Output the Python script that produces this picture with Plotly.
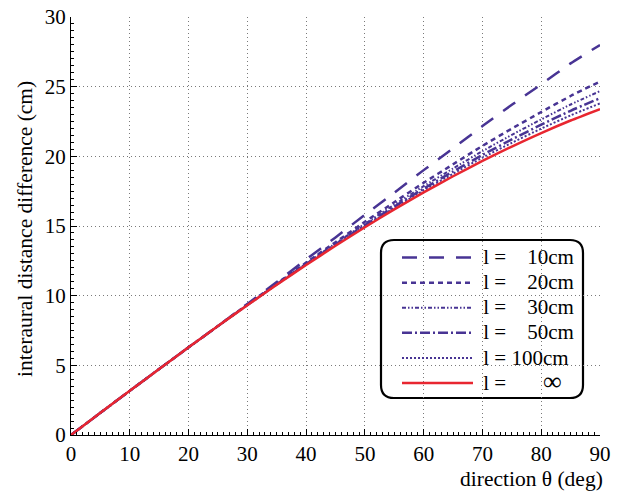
import plotly.graph_objects as go

theta = [0, 5, 10, 15, 20, 25, 30, 35, 40, 45, 50, 55, 60, 65, 70, 75, 80, 85, 90]

d_10 = [0, 1.59, 3.17, 4.74, 6.29, 7.82, 9.41, 10.98, 12.60, 14.18, 15.81, 17.39,
        19.01, 20.57, 22.17, 23.70, 25.17, 26.67, 27.99]
d_20 = [0, 1.59, 3.17, 4.74, 6.29, 7.82, 9.36, 10.87, 12.37, 13.84, 15.30, 16.71,
        18.10, 19.43, 20.75, 21.99, 23.18, 24.33, 25.37]
d_30 = [0, 1.59, 3.17, 4.74, 6.29, 7.82, 9.34, 10.84, 12.31, 13.75, 15.16, 16.53,
        17.86, 19.13, 20.37, 21.54, 22.65, 23.72, 24.68]
d_50 = [0, 1.59, 3.17, 4.74, 6.29, 7.82, 9.33, 10.81, 12.27, 13.68, 15.06, 16.39,
        17.68, 18.91, 20.10, 21.21, 22.27, 23.27, 24.17]
d_100 = [0, 1.59, 3.17, 4.74, 6.29, 7.82, 9.32, 10.80, 12.24, 13.63, 14.99, 16.30,
         17.55, 18.75, 19.90, 20.97, 21.99, 22.94, 23.80]
d_inf = [0, 1.59, 3.17, 4.74, 6.29, 7.82, 9.31, 10.78, 12.20, 13.58, 14.91, 16.19,
         17.41, 18.57, 19.67, 20.70, 21.67, 22.57, 23.39]

NB = "\u00a0"
labels = [
    NB + "l =" + NB * 3 + " 10cm",
    NB + "l =" + NB * 3 + " 20cm",
    NB + "l =" + NB * 3 + " 30cm",
    NB + "l =" + NB * 3 + " 50cm",
    NB + "l = 100cm",
    NB + "l =" + NB * 7 + "<span style='font-size:26px'>\u221e</span>",
]
names = ["<span style='font-size:21px'>" + s + "</span>" for s in labels]
series = [d_10, d_20, d_30, d_50, d_100, d_inf]

PURPLE = "rgb(72,52,148)"
RED = "rgb(232,38,48)"
styles = [
    dict(color=PURPLE, width=2.5, dash="15px,12px"),
    dict(color=PURPLE, width=2.5, dash="5px,4px"),
    dict(color=PURPLE, width=2.0, dash="4px,2px,1.5px,2px,1.5px,2px"),
    dict(color=PURPLE, width=2.5, dash="10px,3px,2px,3px"),
    dict(color=PURPLE, width=2.0, dash="2px,2px"),
    dict(color=RED, width=2.5),
]

FONT = "Liberation Serif"
fig = go.Figure()
for name, ys, st in zip(names, series, styles):
    fig.add_trace(go.Scatter(x=theta, y=ys, mode="lines", name=name,
                             line=dict(shape="spline", smoothing=0.6, **st)))

axis_common = dict(
    showline=True, linecolor="black", linewidth=1, mirror=False,
    ticks="inside", ticklen=6, tickcolor="black", tickwidth=1,
    showgrid=True, gridcolor="#7a7a7a", griddash="1px,3px", gridwidth=1,
    zeroline=False, automargin=False, ticklabeloverflow="allow",
    tickfont=dict(family=FONT, size=21, color="black"),
)

fig.update_xaxes(range=[0, 90], dtick=10, tick0=0,
                 minor=dict(dtick=1, ticks="inside", ticklen=3, tickcolor="black", showgrid=False),
                 **axis_common)
fig.update_yaxes(range=[0, 30], dtick=5, tick0=0,
                 minor=dict(dtick=0.5, ticks="inside", ticklen=3, tickcolor="black", showgrid=False),
                 **axis_common)

# page (browser) coordinates of the plot area; the page body adds an 8px offset
OFF = 8
PL, PR, PT, PB = 71, 600, 17, 435
PW, PH = PR - PL, PB - PT
L, T = PL - OFF, PT - OFF
R = 637 - (PR - OFF)
B = 494 - (PB - OFF)

def px_x(px):
    return (px - PL) / PW

def px_y(py):
    return (PB - py) / PH

# rounded legend frame (paper coords)
x0, x1 = px_x(381), px_x(583)
y0, y1 = px_y(398), px_y(240)
rx, ry = 13 / PW, 13 / PH
path = (f"M {x0+rx},{y1} L {x1-rx},{y1} Q {x1},{y1} {x1},{y1-ry} "
        f"L {x1},{y0+ry} Q {x1},{y0} {x1-rx},{y0} L {x0+rx},{y0} "
        f"Q {x0},{y0} {x0},{y0+ry} L {x0},{y1-ry} Q {x0},{y1} {x0+rx},{y1} Z")
fig.add_shape(type="path", path=path, xref="paper", yref="paper",
              line=dict(color="black", width=2.2), fillcolor="white", layer="below")

fig.update_layout(
    width=637, height=494,
    margin=dict(l=L, r=R, t=T, b=B),
    paper_bgcolor="white", plot_bgcolor="white",
    font=dict(family=FONT, size=20, color="black"),
    showlegend=True,
    legend=dict(x=px_x(397), y=px_y(240), xanchor="left", yanchor="top",
                bgcolor="rgba(0,0,0,0)", borderwidth=0, itemwidth=71,
                font=dict(family=FONT, size=17, color="black"), tracegroupgap=0),
    annotations=[
        dict(text="direction \u03b8 (deg)", xref="paper", yref="paper", x=1, y=0,
             xanchor="right", yanchor="middle", xshift=5, yshift=-44, showarrow=False,
             font=dict(family=FONT, size=21.5, color="black")),
        dict(text="interaural distance difference (cm)", xref="paper", yref="paper",
             x=0, y=px_y(229), xanchor="center", yanchor="middle", xshift=-46,
             textangle=-90, showarrow=False,
             font=dict(family=FONT, size=21.5, color="black")),
    ],
)

fig.write_html("out.html")
